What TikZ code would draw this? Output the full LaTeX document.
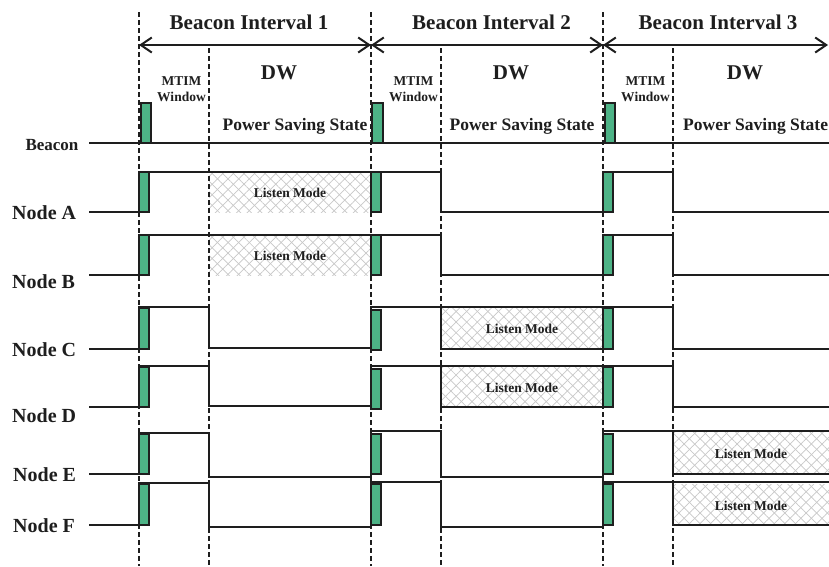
\documentclass[tikz,border=0pt]{standalone}
\usepackage{fontspec}
\setmainfont{Liberation Serif}
\usetikzlibrary{arrows.meta,patterns.meta}
\definecolor{beacongreen}{RGB}{77,179,134}
\definecolor{hatchgray}{RGB}{200,200,200}
\definecolor{ink}{RGB}{30,30,30}
\tikzset{
  vdashline/.style={line width=2.2pt, dash pattern=on 5pt off 3pt, ink},
  sig/.style={line width=1.3pt, ink},
  gbox/.style={draw=ink, fill=beacongreen, line width=1.2pt},
  hatchA/.style={pattern={Lines[angle=45,distance=7.5pt,line width=0.7pt]}, pattern color=hatchgray},
  hatchB/.style={pattern={Lines[angle=-45,distance=7.5pt,line width=0.7pt]}, pattern color=hatchgray},
  intarrow/.style={line width=2pt, ink, {Straight Barb[length=11pt,width=15pt]}-{Straight Barb[length=11pt,width=15pt]}},
  titletxt/.style={font=\bfseries\fontsize{21}{21}\selectfont, ink, inner sep=0pt, anchor=base},
  dwtxt/.style={font=\bfseries\fontsize{21}{21}\selectfont, ink, inner sep=0pt, anchor=base},
  mtimtxt/.style={font=\bfseries\fontsize{13.5}{13.5}\selectfont, ink, inner sep=0pt, anchor=base},
  pstxt/.style={font=\bfseries\fontsize{17.5}{17.5}\selectfont, ink, inner sep=0pt, anchor=base},
  rowtxt/.style={font=\bfseries\fontsize{20}{20}\selectfont, ink, inner sep=0pt, anchor=base west},
  beacontxt/.style={font=\bfseries\fontsize{17}{17}\selectfont, ink, inner sep=0pt, anchor=base},
  lmtxt/.style={font=\bfseries\fontsize{13.5}{13.5}\selectfont, ink, inner sep=0pt, anchor=base},
}
\newcommand{\hatchbox}[4]{%
  \fill[hatchA] (#1,#2) rectangle (#3,#4);
  \fill[hatchB] (#1,#2) rectangle (#3,#4);}
\begin{document}
\begin{tikzpicture}[x=1pt,y=-1pt]
\useasboundingbox[fill=white] (0,0) rectangle (829,566);

% listen-mode hatched areas
\hatchbox{209}{172}{371}{212}
\hatchbox{209}{235}{371}{275}
\hatchbox{441}{307}{603}{349}
\hatchbox{441}{366}{603}{407}
\hatchbox{673}{431}{829}{474}
\hatchbox{673}{484}{829}{525}

% dashed interval lines
\foreach \x in {139,371,603} \draw[vdashline] (\x,12) -- (\x,566);
\foreach \x in {209,441,673} \draw[vdashline] (\x,48) -- (\x,566);

% interval arrows
\coordinate (i0) at (139,45);
\coordinate (i1) at (371,45);
\coordinate (i2) at (603,45);
\coordinate (i3) at (828,45);
\draw[intarrow] (i0) -- (i1);
\draw[intarrow] (i1) -- (i2);
\draw[intarrow] (i2) -- (i3);

% titles
\node[titletxt] (t1) at (249,29) {Beacon Interval 1};
\node[titletxt] (t2) at (491.5,29) {Beacon Interval 2};
\node[titletxt] (t3) at (718,29) {Beacon Interval 3};

\node[dwtxt] (dw1) at (279,79) {DW};
\node[dwtxt] (dw2) at (511,79) {DW};
\node[dwtxt] (dw3) at (745,79) {DW};

\foreach \c/\n in {181.5/1,413.5/2,645.5/3}{
  \node[mtimtxt] (mt\n) at (\c,85) {MTIM};
  \node[mtimtxt] (wi\n) at (\c,101) {Window};
}

\node[pstxt] (ps1) at (295,130) {Power Saving State};
\node[pstxt] (ps2) at (522,130) {Power Saving State};
\node[pstxt, anchor=base west] (ps3) at (683,130) {Power Saving State};

% row labels
\node[beacontxt] (lbeacon) at (52,150) {Beacon};
\node[rowtxt] (la) at (12,219) {Node A};
\node[rowtxt] (lb) at (12,288) {Node B};
\node[rowtxt] (lc) at (12,356) {Node C};
\node[rowtxt] (ld) at (12,422.5) {Node D};
\node[rowtxt] (le) at (13,481.5) {Node E};
\node[rowtxt] (lf) at (13,532.5) {Node F};

% listen mode texts
\node[lmtxt] (lma) at (290,197) {Listen Mode};
\node[lmtxt] (lmb) at (290,260) {Listen Mode};
\node[lmtxt] (lmc) at (522,333) {Listen Mode};
\node[lmtxt] (lmd) at (522,392) {Listen Mode};
\node[lmtxt] (lme) at (751,458) {Listen Mode};
\node[lmtxt] (lmf) at (751,510) {Listen Mode};

% beacon line
\draw[sig] (89,143) -- (829,143);

% signals
\draw[sig] (89,212) -- (139,212) -- (139,172) -- (441,172) -- (441,212) -- (603,212) -- (603,172) -- (673,172) -- (673,212) -- (829,212);
\draw[sig] (89,275) -- (139,275) -- (139,235) -- (441,235) -- (441,275) -- (603,275) -- (603,235) -- (673,235) -- (673,275) -- (829,275);
\draw[sig] (89,349) -- (139,349) -- (139,307) -- (209,307) -- (209,348) -- (371,348) -- (371,307) -- (673,307) -- (673,349) -- (829,349);
\draw[sig] (441,307) -- (441,349) -- (603,349);
\draw[sig] (89,407) -- (139,407) -- (139,366) -- (209,366) -- (209,406) -- (371,406) -- (371,366) -- (673,366) -- (673,407) -- (829,407);
\draw[sig] (441,366) -- (441,407) -- (603,407);
\draw[sig] (89,474) -- (139,474) -- (139,433) -- (209,433) -- (209,477) -- (371,477) -- (371,431) -- (441,431) -- (441,477) -- (603,477) -- (603,431) -- (829,431);
\draw[sig] (673,431) -- (673,474) -- (829,474);
\draw[sig] (89,525) -- (139,525) -- (139,483) -- (209,483) -- (209,527) -- (371,527) -- (371,482) -- (441,482) -- (441,527) -- (603,527) -- (603,482) -- (829,482);
\draw[sig] (673,482) -- (673,525) -- (829,525);

% green beacon / MTIM pulses
\draw[gbox] (141,103) rectangle (151,143);
\draw[gbox] (372,103) rectangle (383,143);
\draw[gbox] (605,103) rectangle (615,143);
\foreach \t/\b in {172/212,235/275}{
  \draw[gbox] (139,\t) rectangle (149,\b);
  \draw[gbox] (371,\t) rectangle (381,\b);
  \draw[gbox] (603,\t) rectangle (613,\b);
}
\draw[gbox] (139,308) rectangle (149,349);
\draw[gbox] (371,310) rectangle (381,350);
\draw[gbox] (603,308) rectangle (613,349);
\draw[gbox] (139,367) rectangle (149,407);
\draw[gbox] (371,369) rectangle (381,409);
\draw[gbox] (603,367) rectangle (613,407);
\foreach \t/\b in {434/474,484/525}{
  \draw[gbox] (139,\t) rectangle (149,\b);
  \draw[gbox] (371,\t) rectangle (381,\b);
  \draw[gbox] (603,\t) rectangle (613,\b);
}
\end{tikzpicture}
\end{document}
